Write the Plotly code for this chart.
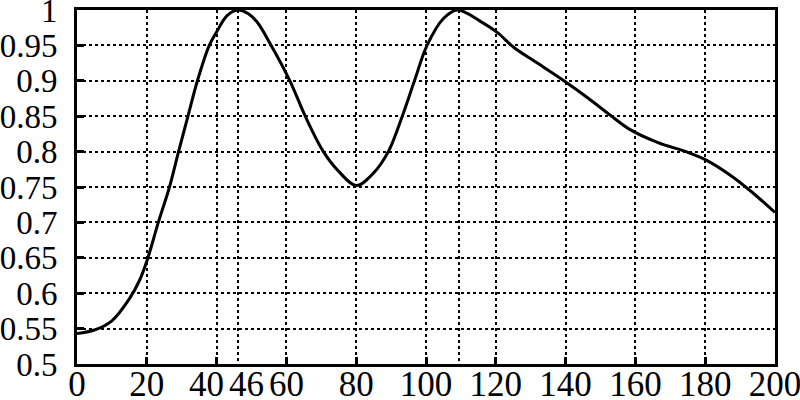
import plotly.graph_objects as go

# curve
x_vals = [0, 5, 10, 15, 18, 20, 23.3, 26.5, 29.1, 31.8, 34.5, 37.9, 40, 43, 46,
          49, 51.6, 55.4, 61, 65.4, 70.6, 75, 80, 85, 89.2, 93.2, 96.7, 100.3,
          105, 109, 115.6, 120.5, 125.2, 131.9, 139.5, 146.3, 152.9, 158.5,
          166.3, 175, 180.7, 187.4, 193.1, 200]
y_vals = [0.543, 0.548, 0.561, 0.592, 0.619, 0.645, 0.7, 0.75, 0.8, 0.85, 0.9,
          0.95, 0.969, 0.992, 1.0, 0.995, 0.983, 0.952, 0.9, 0.85, 0.8, 0.772,
          0.752, 0.77, 0.8, 0.85, 0.9, 0.95, 0.988, 1.0, 0.984, 0.968, 0.947,
          0.925, 0.9, 0.876, 0.851, 0.831, 0.813, 0.799, 0.787, 0.766, 0.744,
          0.714]

x_ticks = [0, 20, 40, 60, 80, 100, 120, 140, 160, 180, 200]
x_tick_text = ["0", "20", "", "60", "80", "100", "120", "140", "160", "180", "200"]
x_left = [40]                  # label pushed left so it sits beside "46"
x_extra = [46, 109.5]          # peak marker lines
x_extra_text = ["46", ""]
y_ticks = [0.5, 0.55, 0.6, 0.65, 0.7, 0.75, 0.8, 0.85, 0.9, 0.95, 1.0]
y_tick_text = ["0.5", "0.55", "0.6", "0.65", "0.7", "0.75", "0.8", "0.85",
               "0.9", "0.95", "1"]

SERIF = "Liberation Serif, Times New Roman, serif"
GRID = dict(showgrid=True, gridcolor="black", griddash="dot", gridwidth=2)
LINE = dict(showline=True, linecolor="black", linewidth=3)
XLAB = dict(tickangle=0, ticklabelstandoff=-13, automargin=False,
            ticklabeloverflow="allow", zeroline=False,
            tickfont=dict(family=SERIF, size=35, color="black"))

fig = go.Figure()
fig.add_trace(go.Scatter(
    x=x_vals, y=y_vals, mode="lines",
    line=dict(color="black", width=3, shape="spline", smoothing=1.0),
    showlegend=False, hoverinfo="skip",
))
# dummy traces to activate the overlay x axes
fig.add_trace(go.Scatter(x=[None], y=[None], xaxis="x2", showlegend=False))
fig.add_trace(go.Scatter(x=[None], y=[None], xaxis="x3", showlegend=False))

fig.update_layout(
    width=800, height=400,
    margin=dict(l=77, r=25, t=10, b=36),
    plot_bgcolor="white", paper_bgcolor="white",
    font=dict(family=SERIF, size=33, color="black"),
    xaxis=dict(
        range=[0, 200], tickvals=x_ticks, ticktext=x_tick_text,
        ticks="inside", ticklen=7, tickwidth=2.5, tickcolor="black",
        mirror=True, **XLAB, **LINE, **GRID,
    ),
    xaxis2=dict(
        range=[0, 200], overlaying="x", anchor="y", side="bottom",
        tickvals=x_left, ticktext=["40"], ticks="", showgrid=False,
        ticklabelshift=-10, **XLAB, **LINE,
    ),
    xaxis3=dict(
        range=[0, 200], overlaying="x", anchor="y", side="bottom",
        tickvals=x_extra, ticktext=x_extra_text, ticks="",
        ticklabelshift=9, **XLAB, **LINE, **GRID,
    ),
    yaxis=dict(
        range=[0.5, 1.0], tickvals=y_ticks, ticktext=y_tick_text,
        ticks="inside", ticklen=7, tickwidth=2.5, tickcolor="black",
        mirror=True, zeroline=False, ticklabelstandoff=10,
        automargin=False, ticklabeloverflow="allow", **LINE, **GRID,
    ),
)

# drop the page's default 8px body margin so the figure sits at the corner
fig.write_html("out.html", config={"displayModeBar": False},
               post_script="document.body.style.margin='0';")
